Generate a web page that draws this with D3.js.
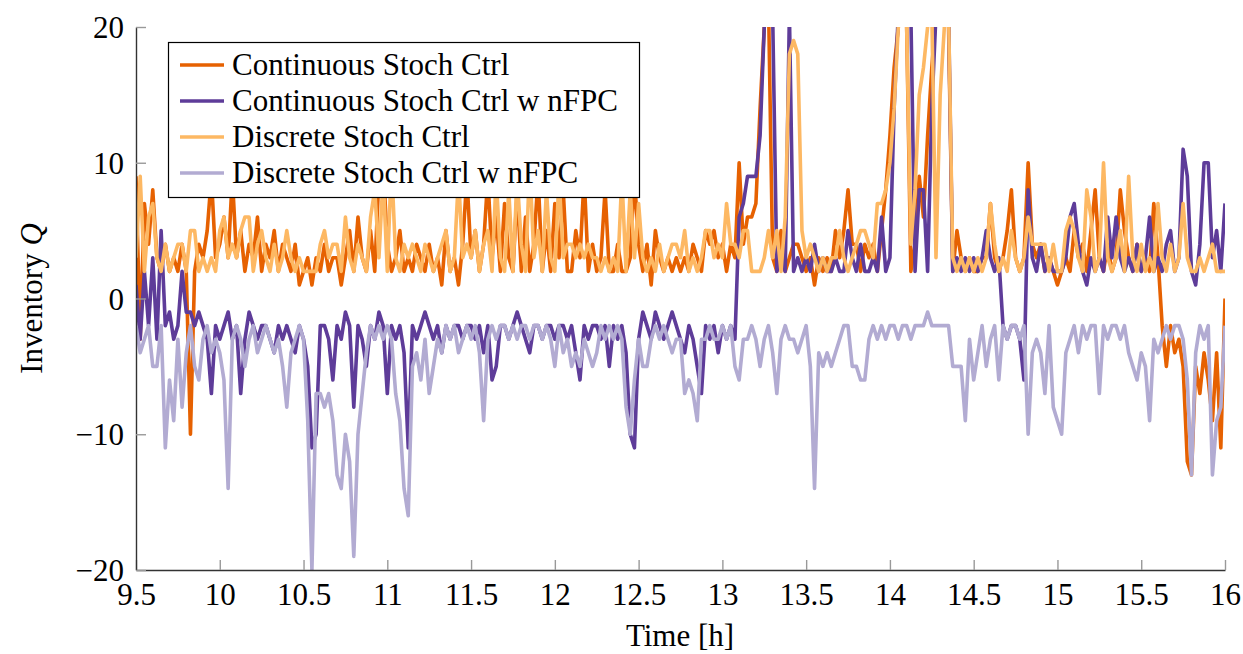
<!DOCTYPE html>
<html><head><meta charset="utf-8">
<script src="https://cdn.jsdelivr.net/npm/d3@7"></script>
<style>
body{margin:0;background:#fff}
text{font-family:"Liberation Serif","Times New Roman",serif;fill:#000}
</style>
</head><body>
<svg id="chart" width="1243" height="654"></svg>
<script>
// sampling grid of the time axis (hours)
const tStart = 9.5, tStep = 0.025;

const contStoch = [
 9,-3,7,4,8,3,2,4,2,3,2,4,2,-10,2,4,3,5,9,3,
 4,6,3,9,3,5,2,4,3,6,2,4,3,5,2,4,3,2,4,1,
 2,3,1,3,2,4,2,3,3,1,3,5,2,6,3,2,5,2,9,10,
 4,2,3,5,2,3,2,4,3,2,4,2,3,1,5,2,3,1,4,9,
 3,5,2,4,9,3,6,2,7,3,2,8,2,6,2,4,9,2,5,2,
 7,3,8,2,2,5,3,9,2,4,2,3,8,2,2,4,2,2,3,9,
 4,2,4,1,5,3,2,3,2,3,2,3,2,4,3,2,5,4,5,3,
 4,2,4,3,10,4,6,6,7,14,20,22,3,2,5,2,3,4,4,3,
 2,3,1,3,2,3,2,5,3,5,8,4,4,2,4,3,4,2,5,8,
 12,17,20,21,20,2,4,9,6,12,17,21,22,21,20,2,5,3,2,3,
 2,2,3,3,7,3,2,3,5,8,3,2,3,10,4,3,4,2,3,2,
 1,2,3,2,5,3,4,2,5,8,3,2,4,2,3,8,5,3,2,4,
 2,3,2,7,3,-2,-5,-2,-4,-3,-5,-12,-13,-5,-7,-4,-6,-9,-4,-11,0
];

const contStochNFPC = [
 1,-3,2,-2,3,-3,5,-2,-1,-3,-2,2,-1,-1,-2,-1,-2,-3,-7,-2,
 -3,-2,-1,-3,-2,-7,-3,-1,-2,-3,-2,-2,-3,-4,-2,-3,-2,-3,-4,-2,
 -3,-5,-11,-10,-2,-2,-3,-6,-2,-3,-1,-2,-8,-2,-3,-5,-2,-3,-1,-2,
 -7,-2,-3,-2,-4,-11,-2,-3,-2,-1,-2,-3,-2,-4,-2,-3,-2,-2,-3,-2,
 -2,-3,-2,-4,-2,-6,-5,-2,-2,-3,-2,-1,-2,-3,-4,-2,-2,-3,-2,-2,
 -3,-2,-2,-3,-2,-4,-6,-2,-3,-2,-2,-3,-2,-5,-2,-3,-2,-4,-10,-11,
 -3,-1,-2,-3,-1,-2,-3,-2,-1,-2,-3,-4,-2,-3,-5,-7,-2,-3,-2,-4,
 -2,-3,-2,-3,6,7,9,9,9,12,20,21,21,2,3,2,21,2,3,2,
 3,2,4,2,3,2,2,3,2,2,5,3,2,4,2,2,3,2,6,2,
 3,14,21,21,21,21,2,8,8,2,14,21,21,21,21,2,3,2,3,2,
 3,2,3,5,3,2,3,-2,-3,-2,-2,-3,-6,8,3,2,4,2,3,2,
 2,2,3,6,7,4,2,1,3,2,3,2,6,3,6,3,2,3,2,4,
 2,3,6,2,3,2,4,5,2,3,11,9,2,1,4,10,10,3,5,2,7
];

const discStoch = [
 3,9,2,6,7,3,2,4,2,3,4,4,2,5,5,2,3,2,3,2,
 5,6,3,4,3,5,6,6,2,4,5,3,2,4,2,3,5,3,2,3,
 2,2,2,2,4,5,3,4,4,2,6,3,2,4,3,2,6,8,3,9,
 2,10,3,2,4,3,4,3,2,4,3,2,3,4,5,2,3,9,3,4,
 3,5,2,4,5,2,9,3,2,8,2,9,4,2,10,3,5,2,8,3,
 2,9,3,4,4,3,4,3,4,3,3,2,3,2,3,2,9,2,8,3,
 7,3,2,3,2,4,2,3,4,4,3,5,2,3,2,3,5,5,3,4,
 3,7,4,4,3,5,5,2,2,2,3,5,3,5,2,6,18,19,18,5,
 3,4,3,2,3,2,3,3,5,3,2,3,4,5,5,4,3,7,7,8,
 10,14,20,21,20,4,8,15,17,20,21,3,15,20,21,3,2,3,2,3,
 2,3,2,3,7,4,2,3,2,5,3,2,3,6,4,4,4,4,2,4,
 2,2,5,6,5,3,2,8,6,2,3,10,3,2,3,5,2,9,3,2,
 4,2,3,2,7,3,2,4,2,3,7,3,2,2,3,2,3,4,2,2,2
];

const discStochNFPC = [
 -2,-4,-3,-2,-5,-5,-2,-11,-6,-9,-3,-8,-4,-2,-5,-6,-3,-2,-4,-3,
 -4,-6,-14,-3,-2,-3,-5,-3,-2,-4,-3,-2,-3,-4,-3,-5,-8,-4,-3,-2,
 -3,-9,-20,-7,-7,-8,-7,-9,-13,-14,-10,-12,-19,-10,-7,-4,-2,-3,-2,-3,
 -2,-3,-7,-9,-14,-16,-5,-4,-6,-3,-7,-5,-3,-4,-2,-3,-2,-4,-3,-2,
 -3,-2,-4,-9,-3,-2,-3,-2,-2,-3,-2,-3,-2,-2,-3,-2,-2,-3,-2,-3,
 -5,-2,-4,-3,-5,-4,-5,-3,-4,-5,-4,-2,-3,-2,-3,-2,-3,-8,-10,-6,
 -3,-5,-5,-3,-2,-3,-2,-3,-4,-3,-3,-7,-6,-7,-9,-3,-3,-2,-3,-3,
 -2,-3,-2,-5,-6,-3,-3,-2,-3,-5,-3,-2,-4,-7,-3,-2,-3,-3,-4,-3,
 -2,-5,-14,-4,-5,-4,-5,-4,-3,-2,-2,-5,-5,-6,-6,-3,-2,-3,-2,-3,
 -2,-2,-3,-2,-2,-3,-2,-2,-2,-1,-2,-2,-2,-2,-2,-5,-5,-5,-9,-3,
 -6,-4,-2,-5,-3,-2,-6,-2,-3,-2,-2,-3,-2,-10,-4,-3,-4,-7,-2,-8,
 -9,-10,-4,-3,-2,-4,-2,-3,-2,-2,-7,-2,-3,-2,-2,-3,-2,-4,-5,-6,
 -4,-5,-9,-3,-4,-3,-2,-3,-2,-2,-3,-6,-13,-4,-2,-3,-2,-13,-9,-8,-2
];

const seriesNames = ["Continuous Stoch Ctrl","Continuous Stoch Ctrl w nFPC","Discrete Stoch Ctrl","Discrete Stoch Ctrl w nFPC"];
const seriesColors = ["#e66101","#5e3c99","#fdb863","#b2abd2"];
const xTicks = [9.5,10,10.5,11,11.5,12,12.5,13,13.5,14,14.5,15,15.5,16];
const yTicks = [-20,-10,0,10,20];

const svg = d3.select("#chart");
const L = 136, R = 1225, T = 27, B = 570;
const x = d3.scaleLinear().domain([9.5,16]).range([L,R]);
const y = d3.scaleLinear().domain([-20,20]).range([B,T]);
const FS = 31;

svg.append("defs").append("clipPath").attr("id","plotclip")
  .append("rect").attr("x",L).attr("y",T).attr("width",R-L).attr("height",B-T);

const allSeries = [contStoch, contStochNFPC, discStoch, discStochNFPC];
const line = d3.line().x((d,i)=>x(tStart + i*tStep)).y(d=>y(d));
const g = svg.append("g").attr("clip-path","url(#plotclip)");
allSeries.forEach((s,k)=>{
  g.append("path").datum(s).attr("d",line)
    .attr("fill","none").attr("stroke",seriesColors[k])
    .attr("stroke-width",3.6).attr("stroke-linejoin","round");
});

// axes
const xAxis = d3.axisBottom(x).tickValues(xTicks).tickSizeInner(-10).tickSizeOuter(0).tickPadding(13)
  .tickFormat(d3.format("~g"));
const gx = svg.append("g").attr("transform",`translate(0,${B})`).call(xAxis);
const yAxis = d3.axisLeft(y).tickValues(yTicks).tickSizeInner(-10).tickSizeOuter(0).tickPadding(12);
const gy = svg.append("g").attr("transform",`translate(${L},0)`).call(yAxis);
[gx,gy].forEach(a=>{
  a.selectAll("text").style("font-size",FS+"px").attr("font-family",null);
  a.select(".domain").attr("stroke","#333").attr("stroke-width",1.4);
  a.selectAll(".tick line").attr("stroke","#999").attr("stroke-width",1.4);
  a.attr("font-family",null).attr("font-size",null);
});
gy.selectAll(".tick text").attr("dy","0.34em");

// axis titles
svg.append("text").attr("x",680).attr("y",646).attr("text-anchor","middle")
  .style("font-size",FS+"px").text("Time [h]");
const yl = svg.append("text").attr("transform",`translate(42,${(T+B)/2}) rotate(-90)`)
  .attr("text-anchor","middle").style("font-size",FS+"px");
yl.append("tspan").text("Inventory ");
yl.append("tspan").attr("font-style","italic").text("Q");

// legend
const lg = svg.append("g");
lg.append("rect").attr("x",168.5).attr("y",42.5).attr("width",471).attr("height",155)
  .attr("fill","#fff").attr("stroke","#000").attr("stroke-width",1.2);
seriesNames.forEach((n,k)=>{
  const yy = 65 + k*36;
  lg.append("line").attr("x1",180).attr("x2",224).attr("y1",yy).attr("y2",yy)
    .attr("stroke",seriesColors[k]).attr("stroke-width",3.6);
  lg.append("text").attr("x",232).attr("y",yy).attr("dy","0.33em")
    .style("font-size",FS+"px").text(n);
});
</script>
</body></html>
